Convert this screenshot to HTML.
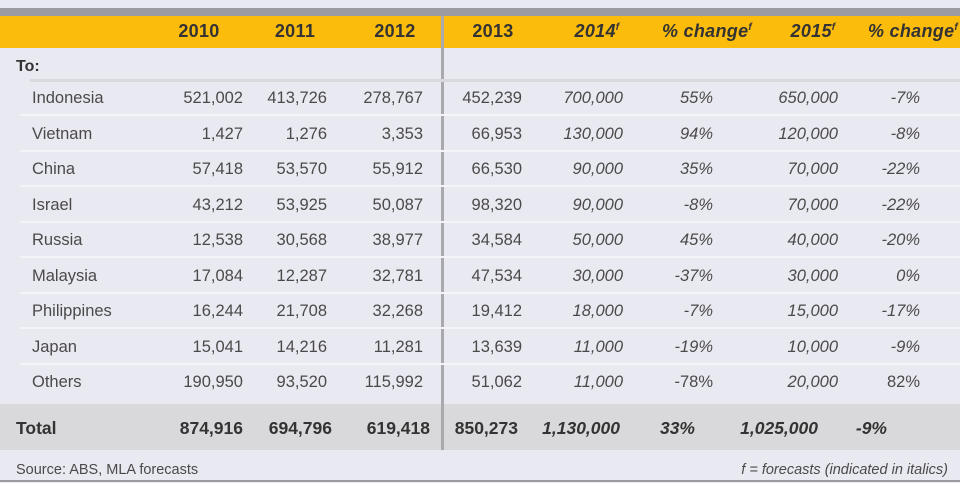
<!DOCTYPE html>
<html><head><meta charset="utf-8"><style>
body{margin:0;width:960px;height:483px;background:#e9e9f1;font-family:"Liberation Sans",Arial,sans-serif;color:#4a4a4a;position:relative;overflow:hidden}
.a{position:absolute;white-space:nowrap}
.r{position:absolute;font-size:16.5px;text-align:right;width:140px}
.h{font-weight:bold;font-size:18px;color:#333;text-align:center;width:140px;position:absolute;top:21px;letter-spacing:0.3px}
.i{font-style:italic}
.line{position:absolute;left:20px;right:0;height:2px;background:#f4f4f8}
.lab{position:absolute;left:32px;font-size:16.5px}
.t{font-weight:bold;font-size:17.5px;color:#333}
</style></head><body>
<div class="a" style="left:0;top:8px;width:960px;height:9px;background:#9b9ba1"></div>
<div class="a" style="left:0;top:16px;width:960px;height:32px;background:#fcbc0c"></div>
<div class="a" style="left:0;top:404px;width:960px;height:46px;background:#d9d9db"></div>
<div class="a" style="left:441px;top:16px;width:3px;height:434px;background:#a9a9ae"></div>
<div class="a" style="left:0;top:480px;width:960px;height:2px;background:#9b9ba1"></div>
<div class="h" style="left:129px">2010</div>
<div class="h" style="left:225px">2011</div>
<div class="h" style="left:325px">2012</div>
<div class="h" style="left:423px">2013</div>
<div class="h i" style="left:527px">2014<sup style="font-size:10px">f</sup></div>
<div class="h i" style="left:637px">% change<sup style="font-size:10px">f</sup></div>
<div class="h i" style="left:743px">2015<sup style="font-size:10px">f</sup></div>
<div class="h i" style="left:843px">% change<sup style="font-size:10px">f</sup></div>
<div class="a t" style="left:16px;top:58px;font-size:16px">To:</div>
<div class="line" style="top:79px;left:30px;height:3px;background:#d8d8dd"></div>
<div id="rows"></div>
<script>
var d=[["Indonesia","521,002","413,726","278,767","452,239","700,000","55%","650,000","-7%"],
["Vietnam","1,427","1,276","3,353","66,953","130,000","94%","120,000","-8%"],
["China","57,418","53,570","55,912","66,530","90,000","35%","70,000","-22%"],
["Israel","43,212","53,925","50,087","98,320","90,000","-8%","70,000","-22%"],
["Russia","12,538","30,568","38,977","34,584","50,000","45%","40,000","-20%"],
["Malaysia","17,084","12,287","32,781","47,534","30,000","-37%","30,000","0%"],
["Philippines","16,244","21,708","32,268","19,412","18,000","-7%","15,000","-17%"],
["Japan","15,041","14,216","11,281","13,639","11,000","-19%","10,000","-9%"],
["Others","190,950","93,520","115,992","51,062","11,000","-78%","20,000","82%"]];
var R=[243,327,423,522,623,713,838,920],h="";
d.forEach(function(r,k){var y=89+k*35.5;
h+='<div class="lab a" style="top:'+y+'px">'+r[0]+'</div>';
for(var j=1;j<9;j++){var it=(j==5||j==7||(k<8&&(j==6||j==8)));
h+='<div class="r'+(it?' i':'')+'" style="top:'+y+'px;left:'+(R[j-1]-140)+'px">'+r[j]+'</div>';}
if(k<8)h+='<div class="line" style="top:'+(y+25)+'px"></div>';});
var T=["874,916","694,796","619,418","850,273","1,130,000","33%","1,025,000","-9%"];
var TR=[243,332,430,518,620,695,818,887];
h+='<div class="a t" style="left:16px;top:418px">Total</div>';
T.forEach(function(v,j){h+='<div class="r t'+(j>=4?' i':'')+'" style="top:418px;left:'+(TR[j]-140)+'px">'+v+'</div>';});
document.getElementById("rows").innerHTML=h;
</script>
<div class="a" style="left:16px;top:462px;font-size:14.5px">Source: ABS, MLA forecasts</div>
<div class="a i" style="right:12px;top:462px;font-size:14.5px">f = forecasts (indicated in italics)</div>
</body></html>
